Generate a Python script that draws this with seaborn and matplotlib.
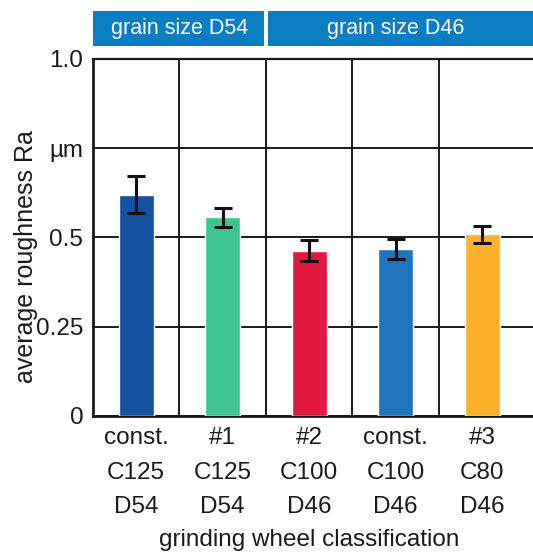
import matplotlib
matplotlib.use("Agg")
import matplotlib.pyplot as plt
import matplotlib.transforms as mtransforms
from matplotlib.patches import Rectangle
import seaborn as sns
import pandas as pd

# Grinding wheels and their measured average roughness Ra (µm)
wheels = ["const.\nC125\nD54", "#1\nC125\nD54", "#2\nC100\nD46",
          "const.\nC100\nD46", "#3\nC80\nD46"]
roughness = [0.62, 0.556, 0.463, 0.467, 0.508]
roughness_err = [0.053, 0.026, 0.030, 0.027, 0.023]
bar_colors = ["#1550a3", "#3dc492", "#e0193e", "#1f74bd", "#fbb12b"]

y_ticks = [0, 0.25, 0.5, 0.75, 1.0]
y_tick_labels = ["0", "0.25", "0.5", "µm", "1.0"]

# Grain-size groups: label and [first, last) wheel index
group_labels = ["grain size D54", "grain size D46"]
group_ranges = [(0, 2), (2, 5)]

sns.set_style("white")
plt.rcParams["font.family"] = ["Liberation Sans", "DejaVu Sans"]

df = pd.DataFrame({"wheel": wheels, "Ra": roughness})

W, H = 533, 552
fig = plt.figure(figsize=(W / 100, H / 100), dpi=100)
ax = fig.add_axes([93 / W, 136.3 / H, 440 / W, 356.7 / H])

sns.barplot(data=df, x="wheel", y="Ra", hue="wheel", palette=bar_colors,
            width=0.4, saturation=1, legend=False, ax=ax, zorder=3)
ax.errorbar(range(len(wheels)), roughness, yerr=roughness_err, fmt="none",
            ecolor="#111111", elinewidth=2.2, capsize=6.8, capthick=2.2,
            zorder=4)

ax.set_xlim(-0.5, 4.587)
ax.set_ylim(0, 1.0)
ax.set_yticks(y_ticks)
ax.set_yticklabels(y_tick_labels)
ax.set_xticks(range(len(wheels)))
ax.set_xticklabels(wheels, linespacing=1.75)
ax.set_xticks([k + 0.5 for k in range(len(wheels) - 1)], minor=True)

ax.grid(which="major", axis="y", color="#1a1a1a", lw=1.4)
ax.grid(which="minor", axis="x", color="#1a1a1a", lw=1.4)
ax.set_axisbelow(True)

for side in ("left", "bottom", "top"):
    ax.spines[side].set_visible(True)
    ax.spines[side].set_color("#1a1a1a")
ax.spines["left"].set_linewidth(2)
ax.spines["bottom"].set_linewidth(2)
ax.spines["top"].set_linewidth(1.6)
ax.spines["right"].set_visible(False)

ax.tick_params(axis="both", which="both", length=0, labelsize=17.5,
               colors="#1a1a1a")
ax.tick_params(axis="y", pad=7)
ax.tick_params(axis="x", pad=8)

ax.set_xlabel("grinding wheel classification", fontsize=17.5,
              color="#1a1a1a")
ax.xaxis.set_label_coords(0.491, -0.318)
ax.set_ylabel("average roughness Ra", fontsize=18, color="#1a1a1a")
ax.yaxis.set_label_coords(-0.125, 0.446)

# Group header bands above the plot
trans = mtransforms.blended_transform_factory(ax.transData, ax.transAxes)
gap = 0.023
x_end = ax.get_xlim()[1]
for label, (start, stop) in zip(group_labels, group_ranges):
    left = start - 0.5 + (gap if start > 0 else 0)
    right = (stop - 0.5 - gap) if stop < len(wheels) else x_end
    ax.add_patch(Rectangle((left, 1.0365), right - left, 0.099,
                           transform=trans, facecolor="#0b7dc2",
                           edgecolor="none", clip_on=False))
    ax.text((start + stop - 1) / 2, 1.086, label, transform=trans,
            ha="center", va="center", color="white", fontsize=15.5)

fig.savefig("out.png", dpi=100)
